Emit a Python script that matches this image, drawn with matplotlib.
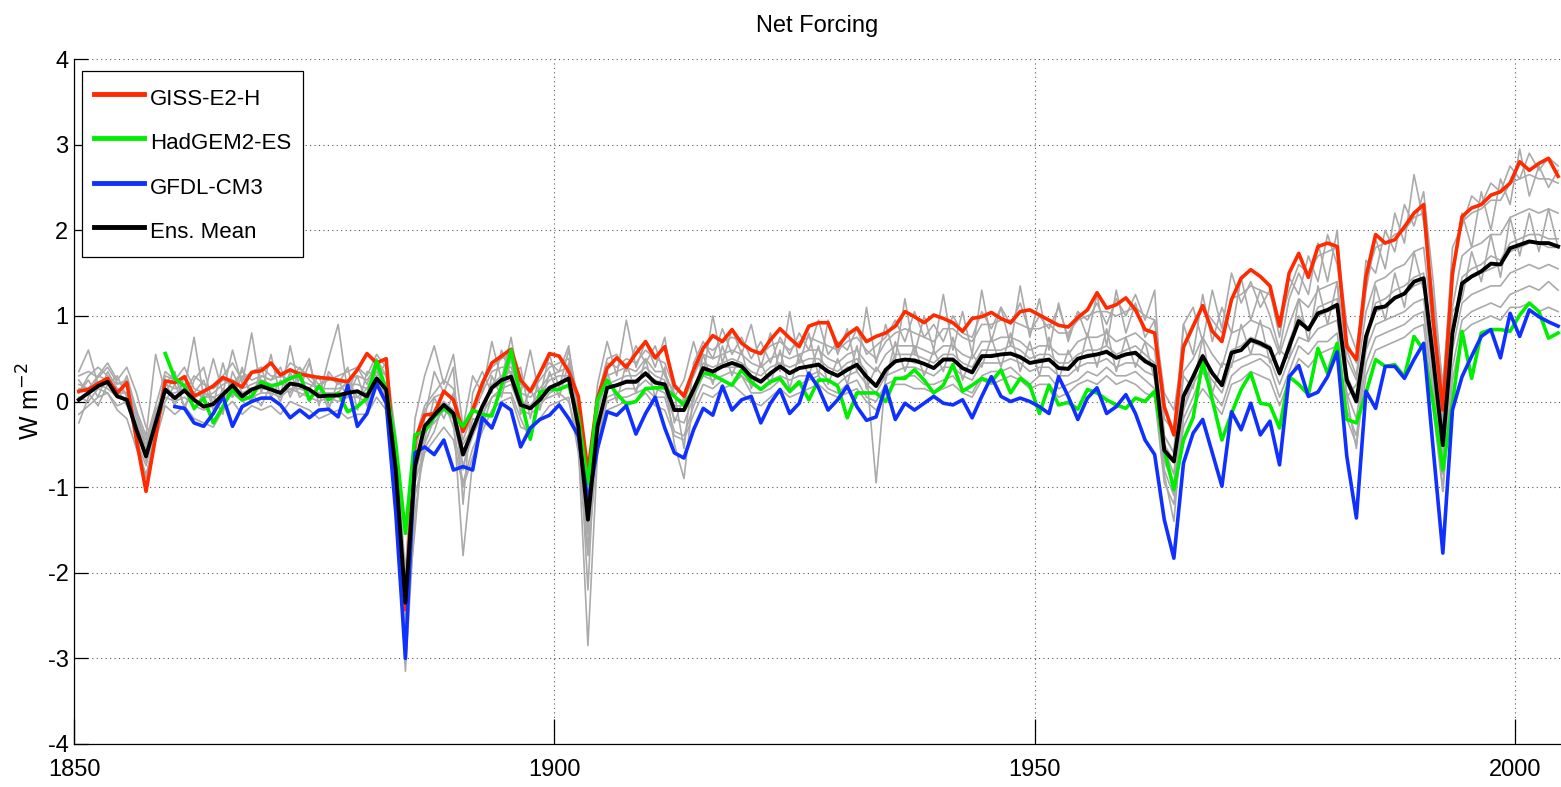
import numpy as np
import matplotlib
matplotlib.use("Agg")
import matplotlib.pyplot as plt

plt.rcParams['font.family'] = ['Liberation Sans', 'DejaVu Sans']
plt.rcParams['axes.unicode_minus'] = False

# ---------------- data ----------------
years = np.arange(1850, 2005)          # annual values, plotted at mid-year

giss = [
    0.12, 0.14, 0.21, 0.27, 0.10, 0.22, -0.45, -1.05, -0.41, 0.24,
    0.22, 0.29, 0.06, 0.12, 0.18, 0.28, 0.23, 0.17, 0.34, 0.36,
    0.45, 0.31, 0.37, 0.32, 0.30, 0.28, 0.27, 0.25, 0.23, 0.37,
    0.56, 0.45, 0.50, -0.90, -2.43, -0.45, -0.16, -0.14, 0.12, 0.02,
    -0.35, -0.10, 0.21, 0.45, 0.53, 0.61, 0.25, 0.12, 0.33, 0.56,
    0.53, 0.35, 0.06, -0.82, 0.04, 0.39, 0.51, 0.40, 0.56, 0.70,
    0.51, 0.64, 0.19, 0.06, 0.37, 0.62, 0.77, 0.70, 0.84, 0.68,
    0.60, 0.56, 0.72, 0.85, 0.74, 0.64, 0.88, 0.92, 0.92, 0.64,
    0.78, 0.86, 0.70, 0.76, 0.80, 0.88, 1.05, 0.99, 0.92, 1.01,
    0.97, 0.92, 0.82, 0.97, 0.99, 1.04, 0.97, 0.92, 1.05, 1.07,
    1.01, 0.95, 0.89, 0.87, 0.98, 1.07, 1.27, 1.09, 1.13, 1.21,
    1.07, 0.84, 0.80, -0.06, -0.39, 0.64, 0.88, 1.12, 0.82, 0.70,
    1.19, 1.44, 1.54, 1.46, 1.35, 0.88, 1.50, 1.73, 1.45, 1.81,
    1.85, 1.81, 0.64, 0.49, 1.46, 1.95, 1.85, 1.89, 2.04, 2.20,
    2.30, 0.95, -0.10, 1.50, 2.16, 2.26, 2.30, 2.41, 2.45, 2.55,
    2.80, 2.70, 2.78, 2.84, 2.63,
]

hadgem_start = 1859
hadgem = [
    0.56,
    0.27, 0.18, -0.08, 0.04, -0.25, -0.06, 0.14, 0.02, 0.06, 0.23,
    0.18, 0.21, 0.27, 0.31, 0.02, 0.18, 0.02, 0.10, -0.12, -0.06,
    0.04, 0.47, 0.14, -0.50, -1.54, -0.39, -0.35, -0.18, -0.08, -0.16,
    -0.29, -0.10, -0.15, -0.17, 0.18, 0.60, 0.04, -0.44, 0.11, 0.14,
    0.14, 0.19, -0.18, -0.96, 0.02, 0.25, 0.09, -0.03, 0.00, 0.15,
    0.16, 0.16, 0.06, -0.04, 0.14, 0.33, 0.31, 0.25, 0.19, 0.37,
    0.23, 0.14, 0.23, 0.27, 0.12, 0.23, 0.02, 0.25, 0.25, 0.18,
    -0.19, 0.10, 0.10, 0.10, 0.00, 0.27, 0.27, 0.37, 0.25, 0.10,
    0.19, 0.43, 0.12, 0.19, 0.27, 0.23, 0.37, 0.10, 0.27, 0.19,
    -0.14, 0.19, -0.04, -0.01, -0.09, 0.14, 0.10, 0.02, -0.04, -0.08,
    0.04, 0.00, 0.12, -0.57, -1.03, -0.45, -0.19, 0.47, 0.02, -0.45,
    -0.14, 0.14, 0.33, -0.02, -0.04, -0.31, 0.29, 0.20, 0.08, 0.62,
    0.33, 0.68, -0.21, -0.25, 0.10, 0.49, 0.41, 0.43, 0.29, 0.76,
    0.60, -0.02, -0.80, -0.02, 0.82, 0.27, 0.80, 0.84, 0.84, 0.82,
    1.01, 1.15, 1.05, 0.74, 0.80,
]

gfdl_start = 1860
gfdl = [
    -0.06, -0.08, -0.25, -0.29, -0.14, 0.06, -0.29, -0.06, 0.00, 0.04,
    0.04, -0.04, -0.19, -0.10, -0.19, -0.10, -0.09, -0.18, 0.19, -0.29,
    -0.14, 0.21, -0.02, -1.30, -3.00, -0.60, -0.53, -0.62, -0.45, -0.80,
    -0.76, -0.80, -0.19, -0.31, -0.02, -0.10, -0.53, -0.31, -0.21, -0.16,
    -0.04, -0.20, -0.40, -1.17, -0.55, -0.12, -0.16, -0.05, -0.38, -0.14,
    0.05, -0.31, -0.60, -0.66, -0.33, -0.08, -0.16, 0.18, -0.10, 0.02,
    0.06, -0.25, -0.02, 0.14, -0.14, -0.02, 0.33, 0.16, -0.10, 0.02,
    0.18, -0.06, -0.22, -0.18, 0.18, -0.21, -0.02, -0.10, -0.02, 0.06,
    -0.02, -0.04, 0.02, -0.19, 0.06, 0.29, 0.06, 0.00, 0.04, 0.00,
    -0.06, -0.14, 0.29, 0.06, -0.21, 0.04, 0.16, -0.14, -0.06, 0.08,
    -0.14, -0.45, -0.62, -1.38, -1.83, -0.72, -0.37, -0.21, -0.60, -0.99,
    -0.12, -0.33, -0.02, -0.39, -0.23, -0.74, 0.29, 0.42, 0.06, 0.11,
    0.29, 0.58, -0.64, -1.36, 0.12, -0.08, 0.41, 0.41, 0.27, 0.49,
    0.68, -0.56, -1.77, -0.10, 0.29, 0.53, 0.76, 0.84, 0.51, 1.03,
    0.76, 1.07, 0.99, 0.93, 0.88,
]

ens_mean = [
    0.02, 0.10, 0.18, 0.23, 0.06, 0.02, -0.33, -0.64, -0.25, 0.14,
    0.04, 0.13, 0.02, -0.06, -0.03, 0.08, 0.19, 0.06, 0.14, 0.18,
    0.14, 0.10, 0.21, 0.19, 0.14, 0.06, 0.07, 0.07, 0.10, 0.12,
    0.06, 0.27, 0.14, -0.80, -2.35, -0.76, -0.29, -0.16, -0.04, -0.14,
    -0.62, -0.33, -0.06, 0.16, 0.25, 0.29, -0.04, -0.08, 0.02, 0.16,
    0.21, 0.27, -0.29, -1.38, -0.29, 0.16, 0.19, 0.23, 0.23, 0.33,
    0.22, 0.20, -0.10, -0.10, 0.14, 0.39, 0.35, 0.41, 0.45, 0.41,
    0.29, 0.23, 0.33, 0.41, 0.33, 0.39, 0.41, 0.43, 0.35, 0.30,
    0.37, 0.43, 0.29, 0.18, 0.37, 0.47, 0.49, 0.48, 0.44, 0.39,
    0.49, 0.49, 0.39, 0.34, 0.53, 0.53, 0.55, 0.56, 0.52, 0.45,
    0.47, 0.49, 0.39, 0.38, 0.50, 0.53, 0.55, 0.58, 0.51, 0.55,
    0.57, 0.47, 0.41, -0.57, -0.70, 0.06, 0.29, 0.53, 0.33, 0.19,
    0.57, 0.60, 0.72, 0.68, 0.62, 0.33, 0.64, 0.94, 0.84, 1.03,
    1.07, 1.13, 0.25, 0.00, 0.76, 1.09, 1.11, 1.21, 1.26, 1.40,
    1.44, 0.49, -0.51, 0.80, 1.38, 1.46, 1.52, 1.61, 1.60, 1.79,
    1.83, 1.87, 1.85, 1.85, 1.81,
]

# individual ensemble members (grey)
member_a = [
    0.30, 0.35, 0.28, 0.40, 0.22, 0.18, -0.15, -0.45, -0.05, 0.35,
    0.25, 0.40, 0.15, 0.10, 0.20, 0.30, 0.45, 0.25, 0.35, 0.40,
    0.30, 0.28, 0.45, 0.38, 0.30, 0.20, 0.25, 0.30, 0.35, 0.40,
    0.30, 0.55, 0.40, -0.60, -2.10, -0.45, -0.05, 0.10, 0.25, 0.15,
    -0.35, -0.10, 0.20, 0.40, 0.50, 0.55, 0.20, 0.10, 0.25, 0.40,
    0.45, 0.50, -0.05, -1.10, -0.05, 0.45, 0.40, 0.50, 0.45, 0.60,
    0.50, 0.45, 0.15, 0.10, 0.40, 0.65, 0.60, 0.70, 0.75, 0.70,
    0.60, 0.55, 0.65, 0.70, 0.60, 0.70, 0.75, 0.70, 0.65, 0.60,
    0.70, 0.75, 0.60, 0.50, 0.70, 0.80, 0.85, 0.80, 0.75, 0.70,
    0.85, 0.85, 0.75, 0.70, 0.90, 0.90, 0.95, 0.95, 0.90, 0.85,
    0.85, 0.90, 0.80, 0.80, 0.95, 1.00, 1.05, 1.05, 1.00, 1.05,
    1.10, 1.00, 0.95, 0.10, -0.10, 0.60, 0.85, 1.10, 0.95, 0.80,
    1.20, 1.25, 1.35, 1.30, 1.25, 0.90, 1.30, 1.60, 1.50, 1.70,
    1.75, 1.80, 0.90, 0.60, 1.45, 1.80, 1.85, 1.95, 2.00, 2.15,
    2.20, 1.20, 0.20, 1.55, 2.10, 2.20, 2.25, 2.35, 2.35, 2.55,
    2.60, 2.65, 2.60, 2.60, 2.55,
]
member_b = [
    -0.15, -0.05, 0.05, 0.10, -0.10, -0.20, -0.55, -0.85, -0.45, -0.05,
    -0.15, -0.05, -0.20, -0.25, -0.30, -0.10, 0.00, -0.15, -0.05, -0.10,
    -0.05, -0.15, 0.00, -0.05, -0.10, -0.20, -0.15, -0.10, -0.20, -0.15,
    -0.15, 0.05, -0.10, -1.10, -2.75, -1.10, -0.60, -0.45, -0.30, -0.45,
    -1.00, -0.65, -0.35, -0.10, 0.00, 0.05, -0.30, -0.35, -0.20, -0.05,
    0.00, 0.05, -0.60, -1.80, -0.55, -0.10, -0.05, 0.00, 0.00, 0.10,
    -0.05, -0.10, -0.40, -0.45, -0.15, 0.10, 0.05, 0.15, 0.20, 0.10,
    0.00, -0.05, 0.05, 0.15, 0.05, 0.10, 0.15, 0.20, 0.10, 0.05,
    0.10, 0.15, 0.00, -0.10, 0.10, 0.20, 0.20, 0.15, 0.15, 0.10,
    0.15, 0.20, 0.10, 0.05, 0.25, 0.20, 0.25, 0.30, 0.25, 0.15,
    0.20, 0.20, 0.05, 0.10, 0.20, 0.25, 0.20, 0.30, 0.20, 0.25,
    0.20, 0.10, 0.05, -0.95, -1.20, -0.30, -0.05, 0.15, 0.00, -0.15,
    0.20, 0.25, 0.35, 0.30, 0.25, -0.05, 0.25, 0.50, 0.40, 0.55,
    0.60, 0.65, -0.20, -0.50, 0.30, 0.60, 0.65, 0.70, 0.75, 0.85,
    0.90, -0.10, -1.05, 0.25, 0.80, 0.90, 0.95, 1.00, 0.95, 1.10,
    1.10, 1.15, 1.05, 1.10, 1.05,
]
member_c = [
    0.10, 0.25, 0.05, 0.35, 0.15, -0.05, -0.30, -0.70, -0.20, 0.25,
    -0.05, 0.30, -0.10, 0.10, 0.05, -0.15, 0.35, 0.10, 0.00, 0.40,
    0.05, 0.25, 0.10, 0.35, 0.00, 0.20, -0.10, 0.25, 0.05, 0.30,
    -0.05, 0.45, 0.05, -0.90, -2.50, -0.70, -0.45, 0.05, -0.20, 0.10,
    -0.80, -0.20, -0.25, 0.30, 0.05, 0.50, -0.15, 0.15, -0.10, 0.35,
    0.05, 0.45, -0.40, -1.55, -0.15, 0.35, 0.00, 0.45, 0.10, 0.50,
    0.05, 0.40, -0.25, 0.05, 0.00, 0.55, 0.20, 0.65, 0.30, 0.60,
    0.15, 0.45, 0.20, 0.60, 0.15, 0.55, 0.30, 0.65, 0.20, 0.50,
    0.20, 0.65, 0.15, 0.40, 0.25, 0.70, 0.35, 0.65, 0.30, 0.60,
    0.35, 0.75, 0.25, 0.55, 0.40, 0.75, 0.40, 0.80, 0.35, 0.70,
    0.30, 0.75, 0.25, 0.60, 0.35, 0.80, 0.40, 0.85, 0.35, 0.75,
    0.40, 0.70, 0.25, -0.55, -0.85, 0.30, 0.15, 0.75, 0.10, 0.45,
    0.40, 0.90, 0.55, 0.95, 0.45, 0.60, 0.50, 1.20, 0.70, 1.35,
    0.90, 1.40, 0.05, 0.20, 0.60, 1.35, 0.95, 1.50, 1.10, 1.75,
    1.30, 0.70, -0.70, 1.05, 1.20, 1.75, 1.40, 1.95, 1.45, 2.15,
    1.70, 2.20, 1.75, 2.25, 1.80,
]
member_d = [
    0.20, 0.15, 0.30, 0.25, 0.10, 0.10, -0.40, -0.90, -0.30, 0.20,
    0.15, 0.20, 0.10, 0.05, 0.10, 0.20, 0.25, 0.15, 0.20, 0.25,
    0.20, 0.20, 0.30, 0.25, 0.20, 0.15, 0.15, 0.15, 0.20, 0.20,
    0.15, 0.35, 0.20, -1.00, -3.15, -1.30, -0.50, -0.20, -0.05, -0.20,
    -1.80, -0.70, -0.10, 0.20, 0.30, 0.35, 0.00, -0.05, 0.10, 0.25,
    0.30, 0.30, -0.50, -2.85, -0.60, 0.20, 0.25, 0.30, 0.30, 0.40,
    0.30, 0.25, -0.50, -0.90, 0.10, 0.45, 0.40, 0.45, 0.50, 0.45,
    0.35, 0.30, 0.40, 0.45, 0.40, 0.45, 0.50, 0.50, 0.40, 0.35,
    0.45, 0.50, 0.35, -0.95, 0.30, 0.55, 0.55, 0.55, 0.50, 0.45,
    0.55, 0.55, 0.45, 0.40, 0.60, 0.60, 0.60, 0.65, 0.60, 0.50,
    0.55, 0.55, 0.45, 0.45, 0.55, 0.60, 0.60, 0.65, 0.55, 0.60,
    0.65, 0.55, 0.45, -0.85, -1.40, -0.10, 0.30, 0.55, 0.35, 0.20,
    0.60, 0.65, 0.75, 0.70, 0.65, 0.30, 0.70, 1.00, 0.85, 1.10,
    1.15, 1.20, 0.05, -0.55, 0.75, 1.15, 1.20, 1.30, 1.35, 1.45,
    1.50, 0.25, -1.05, 0.80, 1.45, 1.55, 1.60, 1.70, 1.65, 1.85,
    1.90, 1.95, 1.95, 1.90, 1.90,
]
member_e = [
    0.05, 0.00, 0.15, 0.10, -0.05, 0.00, -0.25, -0.55, -0.15, 0.05,
    0.00, 0.05, -0.05, -0.10, -0.05, 0.05, 0.10, 0.00, 0.05, 0.10,
    0.10, 0.05, 0.15, 0.10, 0.05, 0.00, 0.05, 0.00, 0.05, 0.05,
    0.00, 0.20, 0.10, -0.70, -2.20, -0.90, -0.35, -0.25, -0.10, -0.20,
    -0.75, -0.40, -0.15, 0.05, 0.15, 0.20, -0.10, -0.15, -0.05, 0.10,
    0.15, 0.20, -0.35, -1.45, -0.40, 0.05, 0.10, 0.15, 0.15, 0.25,
    0.15, 0.10, -0.20, -0.25, 0.05, 0.30, 0.25, 0.30, 0.35, 0.30,
    0.20, 0.15, 0.25, 0.30, 0.25, 0.30, 0.30, 0.35, 0.25, 0.20,
    0.30, 0.35, 0.20, 0.10, 0.30, 0.35, 0.40, 0.40, 0.35, 0.30,
    0.40, 0.40, 0.30, 0.25, 0.45, 0.45, 0.45, 0.50, 0.45, 0.35,
    0.40, 0.40, 0.30, 0.30, 0.40, 0.45, 0.45, 0.50, 0.40, 0.45,
    0.45, 0.35, 0.30, -0.70, -0.95, -0.10, 0.20, 0.40, 0.25, 0.10,
    0.45, 0.50, 0.55, 0.55, 0.50, 0.20, 0.50, 0.75, 0.70, 0.85,
    0.90, 0.95, 0.10, -0.20, 0.60, 0.90, 0.95, 1.00, 1.05, 1.15,
    1.20, 0.30, -0.70, 0.60, 1.15, 1.25, 1.30, 1.35, 1.35, 1.50,
    1.55, 1.60, 1.55, 1.60, 1.55,
]
member_f = [
    0.35, 0.60, 0.20, 0.15, 0.05, 0.30, -0.10, -0.40, 0.55, 0.10,
    0.30, 0.15, 0.75, 0.05, 0.50, 0.10, 0.60, 0.20, 0.80, 0.10,
    0.55, 0.05, 0.65, 0.15, 0.45, 0.05, 0.50, 0.90, 0.10, 0.40,
    0.20, 0.50, 0.30, -0.50, -2.00, -0.20, 0.30, 0.65, 0.20, 0.55,
    -0.30, 0.30, 0.10, 0.70, 0.25, 0.75, 0.10, 0.60, 0.05, 0.55,
    0.15, 0.60, 0.00, -1.00, 0.20, 0.70, 0.30, 0.95, 0.40, 0.70,
    0.40, 0.75, 0.05, 0.25, 0.70, 0.30, 1.00, 0.45, 0.85, 0.55,
    0.90, 0.40, 0.80, 0.35, 1.05, 0.45, 0.80, 0.30, 0.95, 0.55,
    0.85, 0.35, 1.10, 0.45, 0.90, 0.50, 1.20, 0.55, 1.00, 0.60,
    1.25, 0.60, 1.05, 0.55, 1.30, 0.70, 1.10, 0.65, 1.35, 0.75,
    1.20, 0.60, 1.15, 0.70, 1.05, 0.75, 1.25, 0.65, 1.30, 0.80,
    1.15, 0.75, 0.95, -0.20, -0.35, 0.90, 0.55, 1.25, 0.70, 1.10,
    0.80, 1.45, 0.95, 1.30, 1.00, 0.60, 1.20, 1.50, 1.25, 1.85,
    1.40, 2.00, 0.60, 0.30, 1.30, 1.90, 1.55, 2.20, 1.85, 2.65,
    2.10, 1.00, -0.30, 1.40, 2.20, 1.80, 2.45, 2.00, 2.60, 2.30,
    2.95, 2.40, 2.75, 2.50, 2.70,
]
member_g = [
    0.15, 0.15, 0.20, 0.20, 0.15, 0.10, -0.20, -0.50, -0.10, 0.10,
    0.10, 0.15, 0.10, 0.05, 0.05, 0.10, 0.15, 0.10, 0.15, 0.15,
    0.15, 0.10, 0.15, 0.15, 0.10, 0.10, 0.10, 0.10, 0.10, 0.10,
    0.10, 0.25, 0.15, -0.75, -2.30, -0.80, -0.30, -0.10, 0.00, -0.10,
    -0.50, -0.30, -0.05, 0.15, 0.20, 0.25, 0.00, -0.05, 0.05, 0.15,
    0.20, 0.25, -0.25, -1.30, -0.25, 0.15, 0.20, 0.25, 0.25, 0.30,
    0.25, 0.20, -0.05, -0.05, 0.15, 0.35, 0.35, 0.40, 0.40, 0.40,
    0.30, 0.25, 0.30, 0.40, 0.35, 0.40, 0.40, 0.45, 0.35, 0.30,
    0.40, 0.40, 0.30, 0.20, 0.35, 0.45, 0.50, 0.45, 0.45, 0.40,
    0.50, 0.50, 0.40, 0.35, 0.50, 0.55, 0.55, 0.55, 0.50, 0.45,
    0.50, 0.50, 0.40, 0.40, 0.50, 0.55, 0.55, 0.60, 0.50, 0.55,
    0.55, 0.50, 0.40, -0.50, -0.70, 0.10, 0.30, 0.50, 0.35, 0.20,
    0.55, 0.60, 0.70, 0.65, 0.60, 0.35, 0.65, 0.90, 0.85, 1.00,
    1.05, 1.10, 0.30, 0.05, 0.75, 1.05, 1.10, 1.20, 1.25, 1.35,
    1.40, 0.50, -0.45, 0.75, 1.35, 1.45, 1.50, 1.55, 1.60, 1.75,
    1.80, 1.85, 1.85, 1.80, 1.80,
]
member_h = [
    -0.25, 0.05, 0.30, 0.45, 0.25, 0.40, 0.10, -0.30, -0.40, 0.20,
    0.35, -0.10, 0.25, 0.40, -0.05, 0.45, 0.05, 0.40, 0.00, 0.30,
    0.25, 0.40, 0.05, 0.30, 0.50, -0.05, 0.35, 0.20, 0.40, -0.10,
    0.35, 0.30, 0.45, -0.40, -2.60, -1.50, -0.20, 0.35, 0.10, 0.40,
    -1.20, 0.10, 0.35, 0.10, 0.60, 0.30, 0.40, -0.20, 0.35, 0.45,
    0.35, 0.65, -0.20, -2.20, 0.05, 0.50, 0.55, 0.35, 0.65, 0.45,
    0.65, 0.30, 0.10, -0.55, 0.45, 0.70, 0.50, 0.85, 0.55, 0.75,
    0.50, 0.70, 0.45, 0.75, 0.55, 0.80, 0.60, 0.95, 0.55, 0.70,
    0.60, 0.85, 0.55, 0.65, 0.75, 0.95, 0.70, 1.05, 0.75, 0.90,
    0.70, 1.00, 0.80, 0.75, 1.05, 0.85, 1.10, 0.90, 1.15, 0.80,
    1.00, 0.85, 1.10, 0.75, 1.05, 0.95, 1.15, 0.90, 1.20, 1.00,
    1.25, 0.95, 1.30, -0.40, -0.60, 0.90, 1.10, 0.70, 1.30, 0.85,
    1.50, 1.15, 1.40, 1.10, 1.30, 0.75, 1.45, 1.25, 1.70, 1.40,
    1.95, 1.60, 0.70, 0.45, 1.65, 1.50, 2.00, 1.75, 2.30, 2.05,
    2.45, 1.40, 0.10, 1.80, 2.05, 2.40, 2.30, 2.55, 2.45, 2.75,
    2.60, 2.90, 2.70, 2.85, 2.75,
]
member_i = [
    0.25, 0.10, -0.05, 0.20, 0.30, 0.05, -0.45, -0.75, -0.30, 0.00,
    0.20, -0.05, 0.10, 0.25, -0.10, 0.15, 0.05, 0.30, 0.10, -0.05,
    0.20, 0.00, 0.35, 0.05, 0.15, 0.30, -0.05, 0.10, 0.25, 0.05,
    0.15, 0.40, 0.00, -0.85, -2.45, -0.95, -0.55, -0.35, 0.00, -0.30,
    -0.95, -0.55, -0.30, 0.05, 0.10, 0.10, -0.20, -0.45, 0.00, 0.05,
    0.10, 0.00, -0.45, -1.70, -0.50, 0.00, 0.05, 0.05, 0.10, 0.15,
    0.05, 0.05, -0.35, -0.40, -0.05, 0.20, 0.15, 0.25, 0.20, 0.30,
    0.10, 0.10, 0.15, 0.25, 0.10, 0.20, 0.25, 0.30, 0.15, 0.10,
    0.20, 0.25, 0.05, 0.00, 0.20, 0.25, 0.30, 0.30, 0.20, 0.20,
    0.25, 0.30, 0.15, 0.10, 0.30, 0.35, 0.35, 0.40, 0.30, 0.20,
    0.30, 0.30, 0.15, 0.20, 0.25, 0.35, 0.30, 0.40, 0.30, 0.30,
    0.35, 0.25, 0.15, -0.80, -1.10, -0.20, 0.05, 0.35, 0.10, -0.05,
    0.30, 0.40, 0.45, 0.50, 0.40, 0.05, 0.35, 0.65, 0.55, 0.70,
    0.70, 0.80, -0.10, -0.40, 0.45, 0.75, 0.80, 0.85, 0.90, 1.00,
    1.05, 0.10, -0.85, 0.40, 0.95, 1.05, 1.10, 1.15, 1.10, 1.25,
    1.30, 1.35, 1.30, 1.40, 1.30,
]
member_j = [
    0.10, 0.30, 0.40, 0.30, 0.20, 0.25, -0.10, -0.60, -0.20, 0.30,
    0.25, 0.10, 0.30, 0.20, 0.15, 0.25, 0.20, 0.35, 0.25, 0.30,
    0.25, 0.30, 0.25, 0.40, 0.25, 0.15, 0.30, 0.20, 0.25, 0.30,
    0.25, 0.40, 0.30, -0.50, -2.20, -0.60, -0.10, 0.05, 0.10, 0.05,
    -0.45, -0.15, 0.10, 0.35, 0.40, 0.40, 0.10, 0.05, 0.15, 0.30,
    0.35, 0.40, -0.10, -1.20, -0.10, 0.30, 0.35, 0.40, 0.35, 0.50,
    0.35, 0.35, 0.05, 0.00, 0.30, 0.55, 0.50, 0.55, 0.60, 0.55,
    0.45, 0.40, 0.50, 0.55, 0.50, 0.55, 0.60, 0.60, 0.50, 0.45,
    0.55, 0.60, 0.45, 0.35, 0.55, 0.65, 0.65, 0.65, 0.60, 0.55,
    0.65, 0.65, 0.55, 0.50, 0.70, 0.70, 0.75, 0.75, 0.70, 0.60,
    0.65, 0.65, 0.55, 0.55, 0.70, 0.75, 0.75, 0.80, 0.70, 0.75,
    0.80, 0.70, 0.60, -0.40, -0.60, 0.35, 0.50, 0.75, 0.55, 0.40,
    0.80, 0.85, 0.95, 0.90, 0.85, 0.55, 0.90, 1.20, 1.10, 1.30,
    1.35, 1.40, 0.50, 0.25, 1.05, 1.40, 1.45, 1.55, 1.60, 1.75,
    1.80, 0.80, -0.25, 1.10, 1.70, 1.80, 1.85, 1.95, 1.95, 2.15,
    2.20, 2.25, 2.20, 2.25, 2.20,
]
members = [member_a, member_b, member_c, member_d, member_e,
           member_f, member_g, member_h, member_i, member_j]

xticks = [1850, 1900, 1950, 2000]
yticks = [-4, -3, -2, -1, 0, 1, 2, 3, 4]

# ---------------- figure ----------------
W, H = 1561, 787
fig = plt.figure(figsize=(W / 100, H / 100), dpi=100)
ax = fig.add_axes([74 / W, 1 - 744 / H, (W - 74) / W, (744 - 59) / H])

x = years + 0.5
for m in members:
    ax.plot(x, m, color='#aaaaaa', lw=1.2, zorder=2)

ax.plot(x, giss, color='#ff2a00', lw=2.6, zorder=3, label='GISS-E2-H')
xh = np.arange(hadgem_start, hadgem_start + len(hadgem)) + 0.5
ax.plot(xh, hadgem, color='#00ee00', lw=2.6, zorder=3, label='HadGEM2-ES')
xg = np.arange(gfdl_start, gfdl_start + len(gfdl)) + 0.5
ax.plot(xg, gfdl, color='#1030ff', lw=2.6, zorder=4, label='GFDL-CM3')
ax.plot(x, ens_mean, color='black', lw=2.8, zorder=5, label='Ens. Mean')

ax.set_xlim(1850, 2004.8)
ax.set_ylim(-4, 4)
ax.set_xticks(xticks)
ax.set_yticks(yticks)
ax.grid(True, linestyle=(0, (1, 3)), color='#555555', linewidth=0.8)
ax.set_axisbelow(True)
for s in ('top', 'right'):
    ax.spines[s].set_visible(False)
for s in ('left', 'bottom'):
    ax.spines[s].set_linewidth(0.9)

ax.tick_params(axis='both', direction='in', labelsize=17, width=0.9)
ax.tick_params(axis='y', length=10, pad=4)
ax.tick_params(axis='x', length=18, pad=11)

ax.set_ylabel('W m$^{-2}$', fontsize=18, labelpad=2)

leg = ax.legend(loc='upper left', bbox_to_anchor=(8 / 1487, (744 - 71) / 685),
                fontsize=16, frameon=True, fancybox=False, framealpha=1,
                edgecolor='black', handlelength=2.25, handletextpad=0.27,
                handleheight=1.64, labelspacing=0.69, borderpad=0.53,
                borderaxespad=0)
leg.get_frame().set_linewidth(0.9)
for line in leg.get_lines():
    line.set_linewidth(3.5)

fig.text(817 / W, 1 - 32 / H, 'Net Forcing', ha='center', va='baseline',
         fontsize=17)

fig.savefig('out.png', dpi=100)
